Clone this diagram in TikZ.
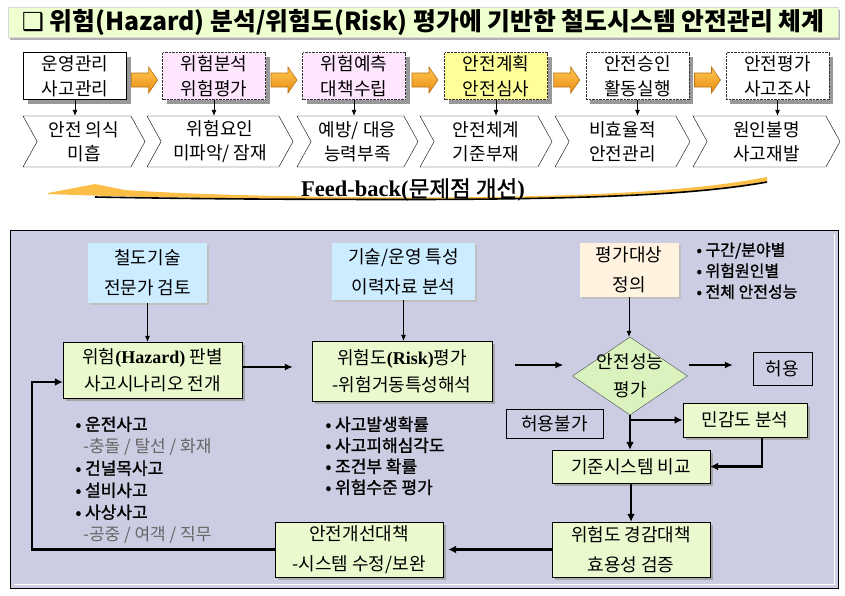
\documentclass[tikz,border=0pt]{standalone}
\usepackage{fontspec}
\setmainfont{Noto Sans CJK KR}
\newfontfamily\krmid[FakeBold=1.3]{Noto Sans CJK KR}
\newfontfamily\tms{Liberation Serif}
\newfontfamily\dvs{DejaVu Sans}
\usetikzlibrary{shapes.geometric,shapes.symbols,shadows,arrows.meta,calc}

\definecolor{titlegreen}{RGB}{238,255,208}
\definecolor{boxpink}{RGB}{255,230,255}
\definecolor{boxyellow}{RGB}{255,255,153}
\definecolor{arrowlight}{RGB}{255,200,80}
\definecolor{arrowdark}{RGB}{232,140,20}
\definecolor{paneltint}{RGB}{204,204,226}
\definecolor{skyblue}{RGB}{204,236,255}
\definecolor{creamtint}{RGB}{255,243,224}
\definecolor{palegreen}{RGB}{234,250,206}
\definecolor{diamondgreen}{RGB}{218,242,190}

\begin{document}
\begin{tikzpicture}
    [x=1pt, y=-1pt,
    font=\fontsize{18}{25}\selectfont,
    % top row
    phasebox/.style={draw=black, fill=white, minimum width=103, minimum height=47, inner sep=0, align=center,
        drop shadow={shadow xshift=4pt, shadow yshift=-4pt, fill=black!40, opacity=1}},
    dotbox/.style={phasebox, densely dotted, draw=black!80},
    gapshape/.style={signal, signal to=east, signal from=west, signal pointer angle=122, draw=black, fill=white,
        minimum height=51, inner sep=0, align=center, font=\fontsize{18}{24}\selectfont},
    blockarrow/.style={top color=arrowlight, bottom color=arrowdark, draw=arrowdark!80!black, line width=0.6pt},
    % bottom panel
    infobox/.style={inner sep=0, align=center, font=\fontsize{18}{30}\selectfont,
        drop shadow={shadow xshift=2pt, shadow yshift=-2pt, fill=black!25, opacity=1}},
    stepbox/.style={draw=black, fill=palegreen, inner sep=0, align=center, font=\fontsize{18}{27}\selectfont,
        drop shadow={shadow xshift=3pt, shadow yshift=-3pt, fill=black!35, opacity=1}},
    plainbox/.style={draw=black, fill=paneltint, inner sep=0, font=\fontsize{18}{22}\selectfont},
    thinarrow/.style={-{Latex[length=6pt,width=5pt]}, line width=0.6pt},
    midarrow/.style={-{Latex[length=8pt,width=7pt]}, line width=1.4pt},
    thickarrow/.style={-{Latex[length=8pt,width=8pt]}, line width=2.2pt}]
    \useasboundingbox (0,0) rectangle (845,595);

    % title
    \node [fill=titlegreen, draw=black!15, minimum width=830, minimum height=30, inner sep=0,
        font=\fontsize{24.8}{28}\selectfont\bfseries,
        drop shadow={shadow xshift=2pt, shadow yshift=-3pt, fill=black!30, opacity=1}] (title) at (423,22)
        {{\dvs\mdseries ❑} 위험(Hazard) 분석/위험도(Risk) 평가에 기반한 철도시스템 안전관리 체계};

    % phases
    \node [phasebox, line width=1pt] (manage) at (75,76) {운영관리\\사고관리};
    \node [dotbox, fill=boxpink] (analysis) at (214,76) {위험분석\\위험평가};
    \node [dotbox, fill=boxpink] (predict) at (354,76) {위험예측\\대책수립};
    \node [dotbox, fill=boxyellow] (plan) at (496,76) {안전계획\\안전심사};
    \node [dotbox] (approve) at (637.5,76) {안전승인\\활동실행};
    \node [dotbox] (review) at (777.5,76) {안전평가\\사고조사};

    \foreach \a/\b in {manage/analysis, analysis/predict, predict/plan, plan/approve, approve/review} {
        \path (\a.east) -- (\b.west) coordinate [pos=0.5] (mid);
        \draw [blockarrow] ($(mid)+(-13,-3)$) -- ++(17,0) -- ++(0,-6) -- ++(9,13) -- ++(-9,13)
            -- ++(0,-6) -- ++(-17,0) -- cycle;
    }

    % problems
    \node [gapshape, minimum width=122] (gap1) at (84,141.5) {안전 의식\\미흡};
    \node [gapshape, minimum width=146] (gap2) at (220,141.5) {위험요인\\미파악/ 잠재};
    \node [gapshape, minimum width=121] (gap3) at (357.5,141.5) {예방/ 대응\\능력부족};
    \node [gapshape, minimum width=132] (gap4) at (486,141.5) {안전체계\\기준부재};
    \node [gapshape, minimum width=135] (gap5) at (622.5,141.5) {비효율적\\안전관리};
    \node [gapshape, minimum width=147] (gap6) at (766.5,141.5) {원인불명\\사고재발};

    \foreach \b/\g in {manage/gap1, analysis/gap2, predict/gap3, plan/gap4, approve/gap5, review/gap6}
        \draw [thinarrow] (\b.south) -- (\b.south |- \g.north);

    % feed-back arrow
    \fill [arrowlight!85!arrowdark] (48,193) -- (95,184) -- (125,190) .. controls (200,195) and (300,197) .. (420,197.5)
        .. controls (600,197) and (700,190) .. (767,177) -- (767,182) .. controls (700,194) and (600,199) .. (420,199.5)
        .. controls (300,199.5) and (150,198) .. (48,194) -- cycle;
    \draw [line width=1.6pt] (95,197) .. controls (200,199) and (300,199.5) .. (420,199.5)
        .. controls (600,199) and (700,194) .. (767,182);
    \node [font=\fontsize{22.5}{24}\selectfont] (feedback) at (413,190)
        {{\tms\bfseries Feed-back(}{\krmid 문제점 개선}{\tms\bfseries )}};

    % panel
    \draw [fill=paneltint] (10,230) rectangle (838,588);
    \draw [white, line width=1pt] (14,584) -- (834,584) -- (834,234);

    \node [infobox, fill=skyblue, minimum width=119, minimum height=60] (expert) at (147.5,273) {철도기술\\전문가 검토};
    \node [infobox, fill=skyblue, minimum width=143, minimum height=57] (history) at (403.5,271.5) {기술/운영 특성\\이력자료 분석};
    \node [infobox, fill=creamtint, minimum width=99, minimum height=54] (target) at (629,270) {평가대상\\정의};
    \node [anchor=north west, align=left, font=\fontsize{16}{21}\selectfont\krmid] (scope) at (693,239)
        {• 구간/분야별\\• 위험원인별\\• 전체 안전성능};

    \node [stepbox, minimum width=179, minimum height=56] (hazard) at (152.5,370)
        {위험{\tms\bfseries(Hazard)} 판별\\사고시나리오 전개};
    \node [stepbox, minimum width=180, minimum height=60] (risk) at (402,371)
        {위험도{\tms\bfseries(Risk)}평가\\-위험거동특성해석};
    \node [diamond, draw=black!70, fill=diamondgreen, minimum width=115, minimum height=78, inner sep=0,
        label={[font=\fontsize{18}{28}\selectfont, align=center]center:안전성능\\평가}] (judge) at (630,376) {};
    \node [plainbox, minimum width=59, minimum height=33] (accept) at (782.5,368.5) {허용};
    \node [plainbox, minimum width=97, minimum height=29] (reject) at (554.5,424) {허용불가};
    \node [stepbox, line width=1pt, minimum width=124, minimum height=34] (sense) at (745,420) {민감도 분석};
    \node [stepbox, minimum width=158, minimum height=33] (compare) at (631,466.5) {기준시스템 비교};
    \node [stepbox, font=\fontsize{18}{30}\selectfont, minimum width=158, minimum height=55] (reduce) at (631,549.5)
        {위험도 경감대책\\효용성 검증};
    \node [stepbox, font=\fontsize{18}{30}\selectfont, minimum width=168, minimum height=55] (improve) at (359,549.5)
        {안전개선대책\\-시스템 수정/보완};

    \node [anchor=north west, align=left, font=\fontsize{17}{22}\selectfont] (hazlist) at (72,413)
        {{\krmid • 운전사고}\\\textcolor{black!60}{\ \ -충돌 / 탈선 / 화재}\\{\krmid • 건널목사고}\\
         {\krmid • 설비사고}\\{\krmid • 사상사고}\\\textcolor{black!60}{\ \ -공중 / 여객 / 직무}};
    \node [anchor=north west, align=left, font=\fontsize{17}{21}\selectfont\krmid] (risklist) at (322,413)
        {• 사고발생확률\\• 사고피해심각도\\• 조건부 확률\\• 위험수준 평가};

    \draw [thinarrow] (expert.south) -- (expert.south |- hazard.north);
    \draw [thinarrow] (history.south) -- (history.south |- risk.north);
    \draw [thinarrow] (target.south) -- (target.south |- judge.north);
    \draw [midarrow] ([yshift=3pt]hazard.east) -- ([xshift=-19pt,yshift=4pt]risk.west);
    \draw [midarrow] ([xshift=23pt,yshift=6pt]risk.east) -- ([xshift=-9pt,yshift=11pt]judge.west);
    \draw [midarrow] ([xshift=1pt,yshift=11pt]judge.east) -- ([xshift=-20pt,yshift=3.5pt]accept.west);
    \draw [thickarrow] (judge.south) -- (judge.south |- compare.north);
    \draw [thickarrow] (judge.south |- sense.west) -- (sense.west);
    \draw [thickarrow] ([xshift=17pt]sense.south) |- (compare.east);
    \draw [thickarrow] (compare) -- (reduce);
    \draw [thickarrow] (reduce.west) -- ([xshift=5pt]improve.east);
    \draw [thickarrow] (improve.west) -| ([xshift=-31pt,yshift=-12pt]hazard.west) -- ([yshift=-12pt]hazard.west);
\end{tikzpicture}
\end{document}
